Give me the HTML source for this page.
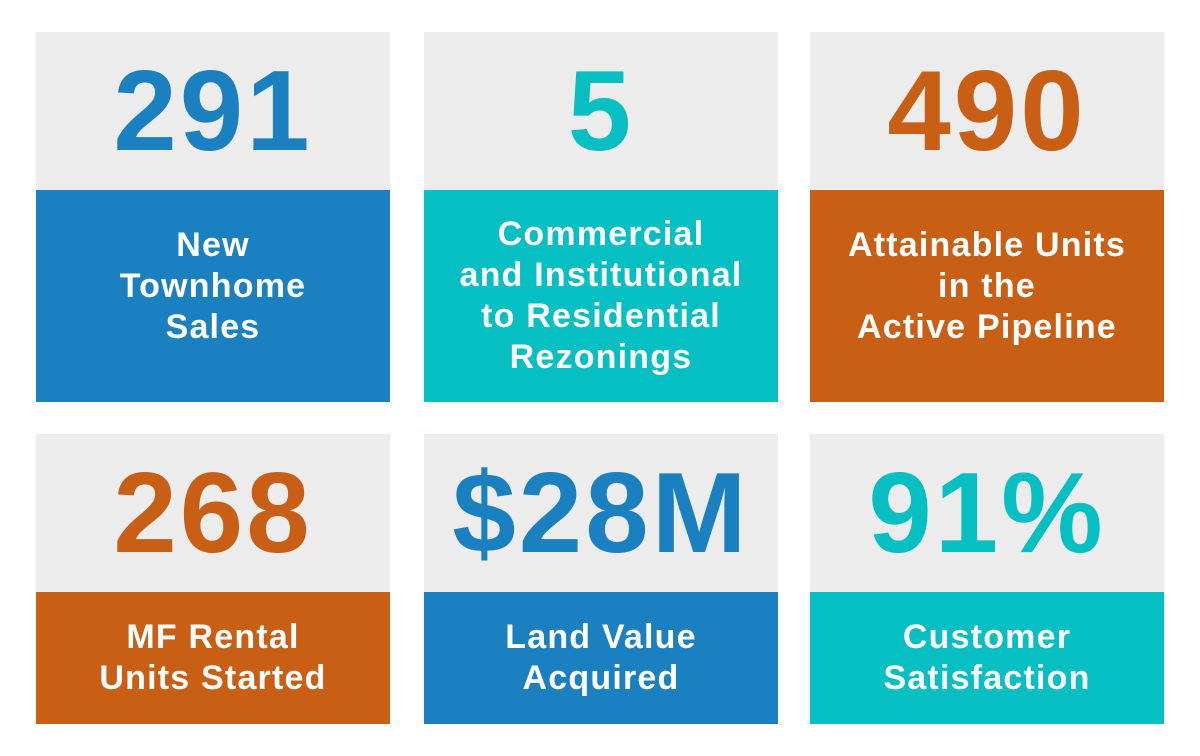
<!DOCTYPE html>
<html><head><style>
html,body{margin:0;padding:0;background:#fff;width:1200px;height:756px;overflow:hidden}
.c{position:absolute;width:354px;font-family:"Liberation Sans",sans-serif;text-align:center}
.t{background:#ececec;height:158px;display:flex;align-items:center;justify-content:center;font-size:114px;font-weight:bold;letter-spacing:3px}
.b{display:flex;align-items:center;justify-content:center;color:#fff;font-size:34px;font-weight:bold;line-height:41px;letter-spacing:1.2px}
.blue{color:#1a80c0}.teal{color:#05bfc2}.or{color:#c95f14}
.bb{background:#1a80c0}.bt{background:#05bfc2}.bo{background:#c95f14}
</style></head><body>
<div class="c" style="left:36px;top:32px"><div class="t blue">291</div><div class="b bb" style="height:192px;padding-bottom:20px">New<br>Townhome<br>Sales</div></div>
<div class="c" style="left:424px;top:32px"><div class="t teal">5</div><div class="b bt" style="height:212px">Commercial<br>and Institutional<br>to Residential<br>Rezonings</div></div>
<div class="c" style="left:810px;top:32px"><div class="t or">490</div><div class="b bo" style="height:192px;padding-bottom:20px">Attainable Units<br>in the<br>Active Pipeline</div></div>
<div class="c" style="left:36px;top:434px"><div class="t or">268</div><div class="b bo" style="height:132px">MF Rental<br>Units Started</div></div>
<div class="c" style="left:424px;top:434px"><div class="t blue">$28M</div><div class="b bb" style="height:132px">Land Value<br>Acquired</div></div>
<div class="c" style="left:810px;top:434px"><div class="t teal">91%</div><div class="b bt" style="height:132px">Customer<br>Satisfaction</div></div>
</body></html>
